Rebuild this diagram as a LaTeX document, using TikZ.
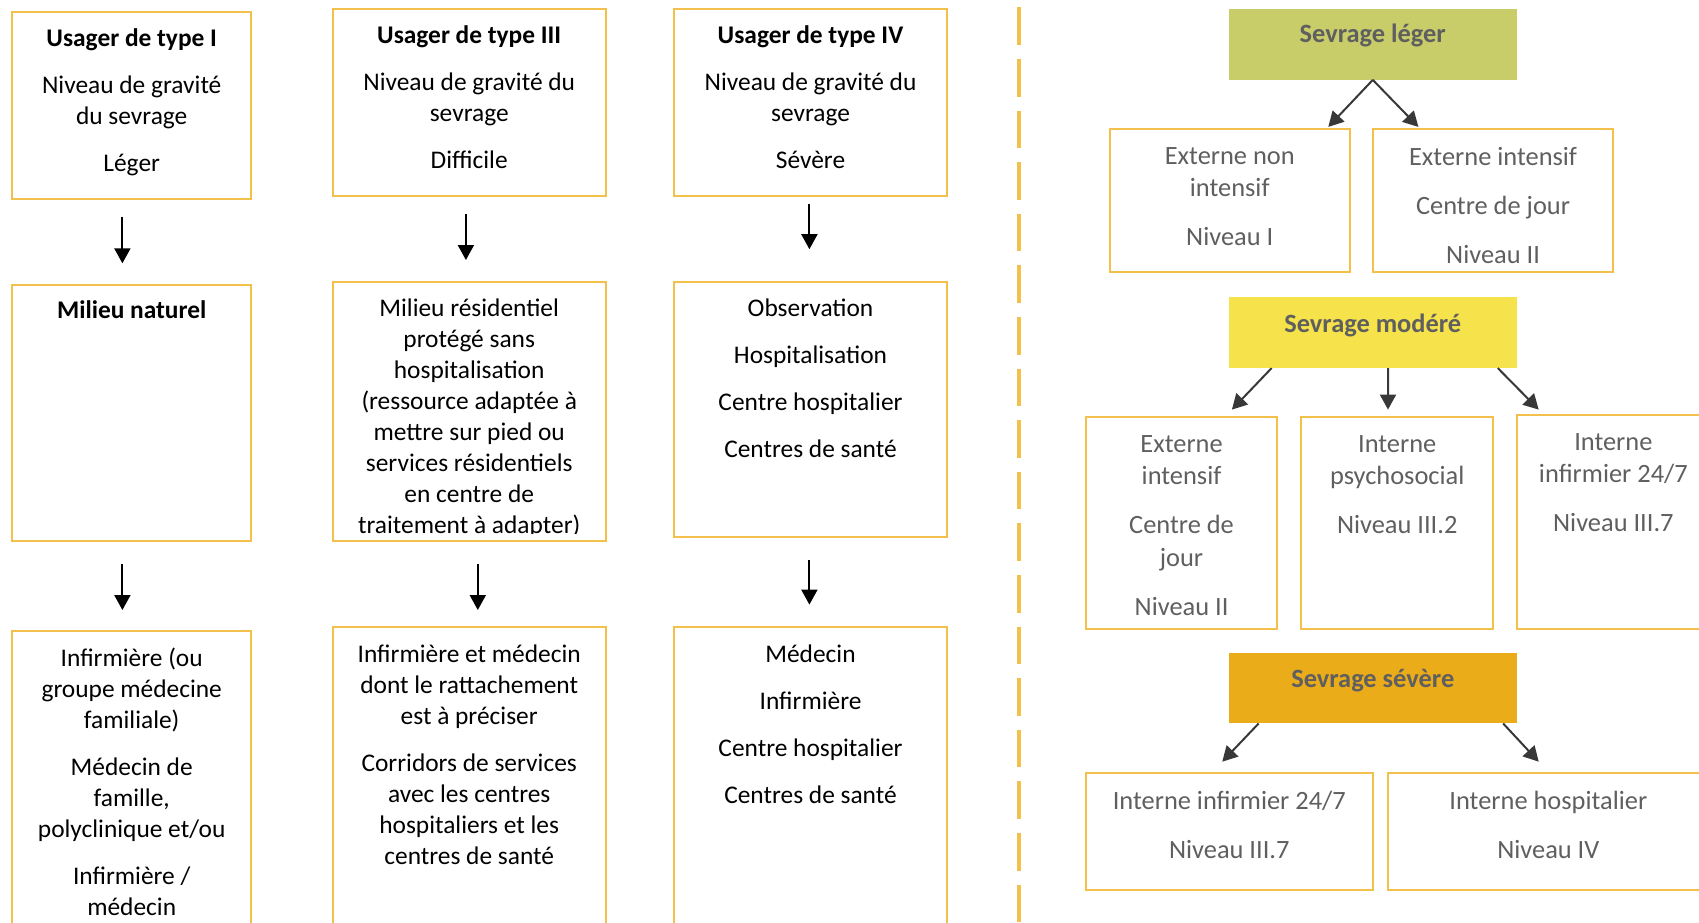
\documentclass[tikz,border=0pt]{standalone}
\usepackage{fontspec}
\setmainfont{Carlito}
\usetikzlibrary{arrows.meta}
\definecolor{bordure}{HTML}{F3C04B}
\definecolor{leger}{HTML}{C8CC69}
\definecolor{modere}{HTML}{F6E24B}
\definecolor{severe}{HTML}{EBAC19}
\definecolor{gristexte}{HTML}{5F5F5F}
\definecolor{grisfleche}{HTML}{383838}

\begin{document}
\begin{tikzpicture}[x=0.5pt,y=-0.5pt,
  cadre/.style={draw=bordure,line width=1pt,inner sep=0pt,anchor=north},
  entete/.style={inner sep=0pt,anchor=north},
  texte/.style={align=center,inner sep=0pt,anchor=north,execute at begin node={\strut},font=\fontsize{12.7}{15.5}\selectfont},
  texteg/.style={texte,text=gristexte,font=\fontsize{13.2}{16.25}\selectfont},
  titre/.style={texteg,font=\bfseries\fontsize{13.2}{16.25}\selectfont},
  fleche/.style={line width=1pt,-{Triangle[width=8pt,length=7.5pt]}},
  flecheg/.style={fleche,draw=grisfleche}]
  \useasboundingbox (0,0) rectangle (1699,922);
  \clip (0,0) rectangle (1699,922);
  % usager de type I
  \node[cadre,minimum width=119.7pt,minimum height=93.8pt] (u1) at (131.7,10.8) {};
  \node[texte] (u1t) at ([yshift=-8.85pt]u1.north) {\textbf{Usager de type I}\\[8pt]Niveau de gravité\\du sevrage\\[8pt]Léger};
  \node[cadre,minimum width=119.7pt,minimum height=127.9pt] (m1) at (131.7,283.9) {};
  \node[texte] (m1t) at ([yshift=-6.15pt]m1.north) {\textbf{Milieu naturel}};
  \node[cadre,minimum width=119.7pt,minimum height=160pt] (r1) at (131.7,629.5) {};
  \node[texte] (r1t) at ([yshift=-8.85pt]r1.north) {Infirmière (ou\\groupe médecine\\familiale)\\[8pt]Médecin de\\famille,\\polyclinique et/ou\\[8pt]Infirmière /\\médecin};
  \draw[fleche] ([xshift=-4.65pt,yshift=-8.1pt]u1.south) -- ([xshift=-4.65pt,yshift=10.3pt]m1.north);
  \draw[fleche] ([xshift=-4.65pt,yshift=-11.35pt]m1.south) -- ([xshift=-4.65pt,yshift=9.75pt]r1.north);
  % usager de type III
  \node[cadre,minimum width=136.6pt,minimum height=93.7pt] (u2) at (469.2,7.6) {};
  \node[texte] (u2t) at ([yshift=-8.85pt]u2.north) {\textbf{Usager de type III}\\[8pt]Niveau de gravité du\\sevrage\\[8pt]Difficile};
  \node[cadre,minimum width=136.6pt,minimum height=129.5pt] (m2) at (469.2,280.6) {};
  \begin{scope}
    \clip (m2.north west) rectangle ([yshift=4.3pt]m2.south east);
    \node[texte] (m2t) at ([yshift=-8.85pt]m2.north) {Milieu résidentiel\\protégé sans\\hospitalisation\\(ressource adaptée à\\mettre sur pied ou\\services résidentiels\\en centre de\\traitement à adapter)};
  \end{scope}
  \node[cadre,minimum width=136.6pt,minimum height=160pt] (r2) at (469.2,626.3) {};
  \node[texte] (r2t) at ([yshift=-8.85pt]r2.north) {Infirmière et médecin\\dont le rattachement\\est à préciser\\[8pt]Corridors de services\\avec les centres\\hospitaliers et les\\centres de santé};
  \draw[fleche] ([xshift=-1.65pt,yshift=-8.7pt]u2.south) -- ([xshift=-1.65pt,yshift=10.3pt]m2.north);
  \draw[fleche] ([xshift=4.3pt,yshift=-11.35pt]m2.south) -- ([xshift=4.3pt,yshift=8.15pt]r2.north);
  % usager de type IV
  \node[cadre,minimum width=136.5pt,minimum height=93.7pt] (u3) at (810.5,7.6) {};
  \node[texte] (u3t) at ([yshift=-8.85pt]u3.north) {\textbf{Usager de type IV}\\[8pt]Niveau de gravité du\\sevrage\\[8pt]Sévère};
  \node[cadre,minimum width=136.5pt,minimum height=127.9pt] (m3) at (810.5,280.6) {};
  \node[texte] (m3t) at ([yshift=-8.85pt]m3.north) {Observation\\[8pt]Hospitalisation\\[8pt]Centre hospitalier\\[8pt]Centres de santé};
  \node[cadre,minimum width=136.5pt,minimum height=160pt] (r3) at (810.5,626.3) {};
  \node[texte] (r3t) at ([yshift=-8.85pt]r3.north) {Médecin\\[8pt]Infirmière\\[8pt]Centre hospitalier\\[8pt]Centres de santé};
  \draw[fleche] ([xshift=-0.55pt,yshift=-3.25pt]u3.south) -- ([xshift=-0.55pt,yshift=15.7pt]m3.north);
  \draw[fleche] ([xshift=-0.55pt,yshift=-10.85pt]m3.south) -- ([xshift=-0.55pt,yshift=10.85pt]r3.north);
  % separation
  \draw[draw=bordure,line width=2.4pt,dash pattern=on 18.8pt off 7pt] (1019,7.3) -- (1019,922);
  % sevrage leger
  \node[entete,fill=leger,minimum width=144.1pt,minimum height=35.2pt] (sl) at (1372.8,8.7) {};
  \node[titre] (slt) at ([yshift=-5.3pt]sl.north) {Sevrage léger};
  \node[cadre,minimum width=120.25pt,minimum height=71.5pt] (en) at (1229.75,127.9) {};
  \node[texteg] (ent) at ([yshift=-9.4pt]en.north) {Externe non\\intensif\\[8.3pt]Niveau I};
  \node[cadre,minimum width=120.25pt,minimum height=71.5pt] (ei) at (1493.05,127.9) {};
  \node[texteg] (eit) at ([yshift=-9.4pt]ei.north) {Externe intensif\\[8.3pt]Centre de jour\\[8.3pt]Niveau II};
  \draw[flecheg] (sl.south) -- ([xshift=-11.35pt,yshift=0.5pt]en.north east);
  \draw[flecheg] (sl.south) -- ([xshift=23.3pt,yshift=0.5pt]ei.north west);
  % sevrage modere
  \node[entete,fill=modere,minimum width=144.1pt,minimum height=35.2pt] (sm) at (1372.8,296.9) {};
  \node[titre] (smt) at ([yshift=-6pt]sm.north) {Sevrage modéré};
  \node[cadre,minimum width=95.85pt,minimum height=106.2pt] (mo1) at (1181.55,416) {};
  \node[texteg] (mo1t) at ([yshift=-9.4pt]mo1.north) {Externe\\intensif\\[8.3pt]Centre de\\jour\\[8.3pt]Niveau II};
  \node[cadre,minimum width=95.9pt,minimum height=106.2pt] (mo2) at (1397.2,416) {};
  \node[texteg] (mo2t) at ([yshift=-9.4pt]mo2.north) {Interne\\psychosocial\\[8.3pt]Niveau III.2};
  \node[cadre,minimum width=96.45pt,minimum height=107.25pt] (mo3) at (1613.35,413.9) {};
  \node[texteg] (mo3t) at ([yshift=-9.4pt]mo3.north) {Interne\\infirmier 24/7\\[8.3pt]Niveau III.7};
  \draw[flecheg] ([xshift=21.65pt]sm.south west) -- ([xshift=-23.25pt,yshift=3.2pt]mo1.north east);
  \draw[flecheg] ([xshift=7.6pt]sm.south) -- ([xshift=-4.6pt,yshift=3.2pt]mo2.north);
  \draw[flecheg] ([xshift=-9.75pt]sm.south east) -- ([xshift=11.4pt,yshift=2.15pt]mo3.north west);
  % sevrage severe
  \node[entete,fill=severe,minimum width=144.1pt,minimum height=35.2pt] (ss) at (1372.8,652.3) {};
  \node[titre] (sst) at ([yshift=-6pt]ss.north) {Sevrage sévère};
  \node[cadre,minimum width=143.55pt,minimum height=58.5pt] (se1) at (1229.25,771.5) {};
  \node[texteg] (se1t) at ([yshift=-9.4pt]se1.north) {Interne infirmier 24/7\\[8.3pt]Niveau III.7};
  \node[cadre,minimum width=160.35pt,minimum height=58.5pt] (se2) at (1548.35,771.5) {};
  \node[texteg] (se2t) at ([yshift=-9.4pt]se2.north) {Interne hospitalier\\[8.3pt]Niveau IV};
  \draw[flecheg] ([xshift=15.15pt]ss.south west) -- ([xshift=-3.5pt,yshift=4.9pt]se1.north);
  \draw[flecheg] ([xshift=-7.05pt]ss.south east) -- ([xshift=75.85pt,yshift=4.9pt]se2.north west);
\end{tikzpicture}
\end{document}
